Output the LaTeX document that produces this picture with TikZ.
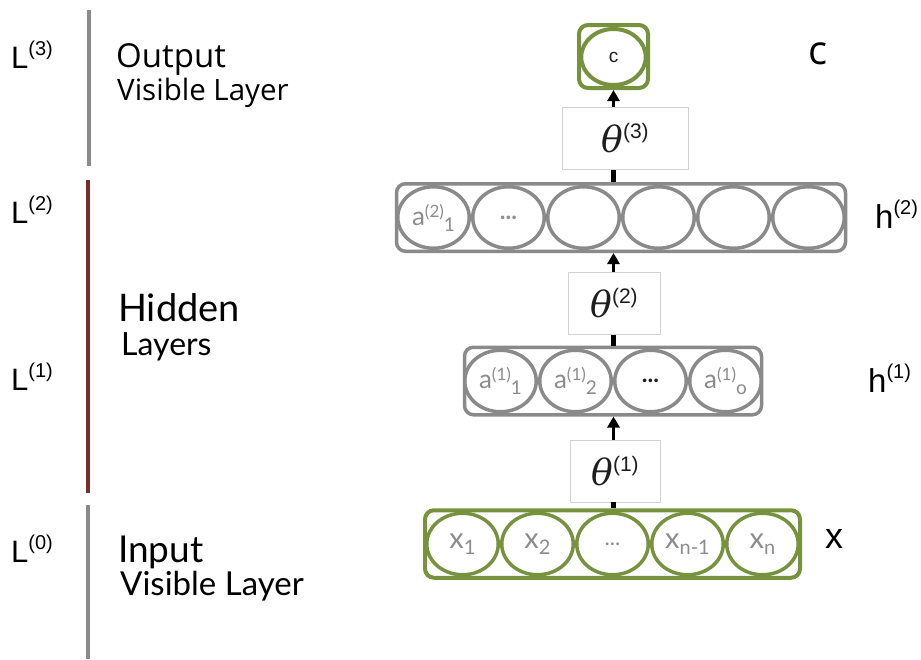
\documentclass[tikz,border=0pt]{standalone}
\usepackage{fontspec}
\setmainfont{Lato}
\newfontfamily\opensans{Open Sans}
\newfontfamily\arialfont{Liberation Sans}
\newfontfamily\thetafont{DejaVu Serif}
\usetikzlibrary{shapes.geometric,arrows.meta}

\definecolor{layergreen}{HTML}{76923C}
\definecolor{layergray}{HTML}{8A8A8A}
\definecolor{labelgray}{HTML}{8C8C8C}
\definecolor{boxgray}{HTML}{D2D2D2}
\definecolor{bardarkred}{HTML}{7A2C2C}
\definecolor{inktext}{HTML}{1E1E1E}

% unit label: base, superscript, subscript written one after another
\newcommand\unitlab[3]{#1\raisebox{8pt}{\fontsize{17}{17}\selectfont #2}\raisebox{-6pt}{\fontsize{19}{19}\selectfont #3}}
\newcommand\xlab[2]{#1\raisebox{-6pt}{\fontsize{20}{20}\selectfont #2}}
\newcommand\dotslab{{\bfseries\fontsize{24}{24}\selectfont...}}
% layer index label L^(n)
\newcommand\layidx[1]{{\arialfont\fontsize{31}{31}\selectfont L\raisebox{13pt}{\fontsize{20}{20}\selectfont(#1)}}}
% parameter label theta^(n)
\newcommand\thetalab[1]{{\thetafont\itshape\fontsize{36}{36}\selectfont θ}\raisebox{14pt}{\arialfont\fontsize{21}{21}\selectfont(#1)}}
\newcommand\hlab[1]{{\arialfont\fontsize{33}{33}\selectfont h\raisebox{14pt}{\fontsize{20}{20}\selectfont(#1)}}}

\begin{document}
\begin{tikzpicture}[x=1pt,y=-1pt,
  layerbox/.style={draw, rounded corners=9pt, line width=3.5pt, inner sep=0pt,
    minimum height=67.5pt},
  unit/.style={ellipse, draw, line width=3.5pt, inner sep=0pt,
    minimum width=71.5pt, minimum height=61.5pt, text=labelgray,
    font=\fontsize{26}{26}\selectfont},
  greenunit/.style={unit, draw=layergreen, font=\fontsize{29}{29}\selectfont},
  grayunit/.style={unit, draw=layergray},
  thetabox/.style={draw=boxgray, line width=0.8pt, inner sep=0pt,
    minimum height=62pt, text=inktext, fill=white},
  uplink/.style={line width=3.5pt, -{Triangle[width=12pt,length=11pt]}},
  stub/.style={line width=5pt},
  sidebar/.style={line width=4pt},
  bigtext/.style={anchor=base west, inner sep=0pt, text=black},
]
\useasboundingbox (0,0) rectangle (921,659);

% ---- left bars ----
\coordinate (o1) at (89,10);  \coordinate (o2) at (89,166);
\coordinate (hd1) at (88,180); \coordinate (hd2) at (88,493);
\coordinate (in1) at (88,505); \coordinate (in2) at (88,659);
\draw[sidebar, layergray] (o1) -- (o2);
\draw[sidebar, bardarkred] (hd1) -- (hd2);
\draw[sidebar, layergray] (in1) -- (in2);

% ---- layer indices ----
\node[bigtext] (L3) at (11,68) {\layidx{3}};
\node[bigtext] (L2) at (11,223) {\layidx{2}};
\node[bigtext] (L1) at (11,390) {\layidx{1}};
\node[bigtext] (L0) at (11,562) {\layidx{0}};

% ---- layer names ----
\node[bigtext, font=\opensans\fontsize{33}{33}\selectfont] (outname) at (116,67) {Output};
\node[bigtext, font=\opensans\fontsize{29.5}{29.5}\selectfont] (outsub) at (117,100) {Visible Layer};
\node[bigtext, font=\fontsize{38}{38}\selectfont, text depth=0pt] (hidname) at (118,321) {Hidden};
\node[bigtext, font=\fontsize{32}{32}\selectfont, text height=23pt] (hidsub) at (121,355) {Layers};
\node[bigtext, font=\fontsize{37}{37}\selectfont] (inname) at (118,562) {Input};
\node[bigtext, font=\fontsize{33}{33}\selectfont] (insub) at (120,595) {Visible Layer};

% ---- output layer ----
\node[layerbox, draw=layergreen, line width=4pt, minimum width=69pt, minimum height=63pt] (c) at (613.5,56.5) {};
\node[ellipse, draw=layergreen, line width=4pt, minimum width=64.5pt, minimum height=56pt,
      inner sep=0pt, text=inktext, font=\arialfont\fontsize{19}{19}\selectfont] (cu) at (613.5,57) {c};

% ---- parameter boxes ----
\node[thetabox, minimum width=126pt] (t3) at (625,138.5) {\thetalab{3}};
\node[thetabox, minimum width=92pt] (t2) at (614,303.5) {\thetalab{2}};
\node[thetabox, minimum width=90pt] (t1) at (615,471) {\thetalab{1}};

% ---- hidden layer 2 ----
\node[layerbox, draw=layergray, minimum width=449pt] (h2) at (621,217.5) {};
\foreach \i/\lab in {1/{\unitlab{a}{(2)}{1}},2/{\dotslab},3/{},4/{},5/{},6/{}}
  \node[grayunit] (h2u\i) at ({621+(\i-3.5)*75},217.5) {\lab};

% ---- hidden layer 1 ----
\node[layerbox, draw=layergray, minimum width=297pt] (h1) at (613,381) {};
\foreach \i/\lab in {1/{\unitlab{a}{(1)}{1}},2/{\unitlab{a}{(1)}{2}},3/{\color{inktext}\dotslab},4/{\unitlab{a}{(1)}{o}}}
  \node[grayunit] (h1u\i) at ({613+(\i-2.5)*75},381) {\lab};

% ---- input layer ----
\node[layerbox, draw=layergreen, line width=4pt, minimum width=375pt] (xin) at (612.5,544) {};
\foreach \i/\lab in {1/{\xlab{x}{1}},2/{\xlab{x}{2}},3/{\fontsize{22}{22}\selectfont...},4/{\xlab{x}{n-1}},5/{\xlab{x}{n}}}
  \node[greenunit] (xu\i) at ({612.5+(\i-3)*75},544) {\lab};

% ---- connectors ----
\draw[stub] (xin.north -| c.south) -- (t1.south -| c.south);
\draw[uplink] (t1.north -| c.south) -- (h1.south -| c.south);
\draw[stub] (h1.north -| c.south) -- (t2.south -| c.south);
\draw[uplink] (t2.north -| c.south) -- (h2.south -| c.south);
\draw[stub] (h2.north -| c.south) -- (t3.south -| c.south);
\draw[uplink] (t3.north -| c.south) -- (c.south);

% ---- right-hand labels ----
\node[bigtext, font=\opensans\fontsize{40}{40}\selectfont] (cname) at (808,64) {c};
\node[bigtext] (h2name) at (875,228) {\hlab{2}};
\node[bigtext] (h1name) at (868,392) {\hlab{1}};
\node[bigtext, font=\arialfont\fontsize{36}{36}\selectfont] (xname) at (825,548) {x};
\end{tikzpicture}
\end{document}
